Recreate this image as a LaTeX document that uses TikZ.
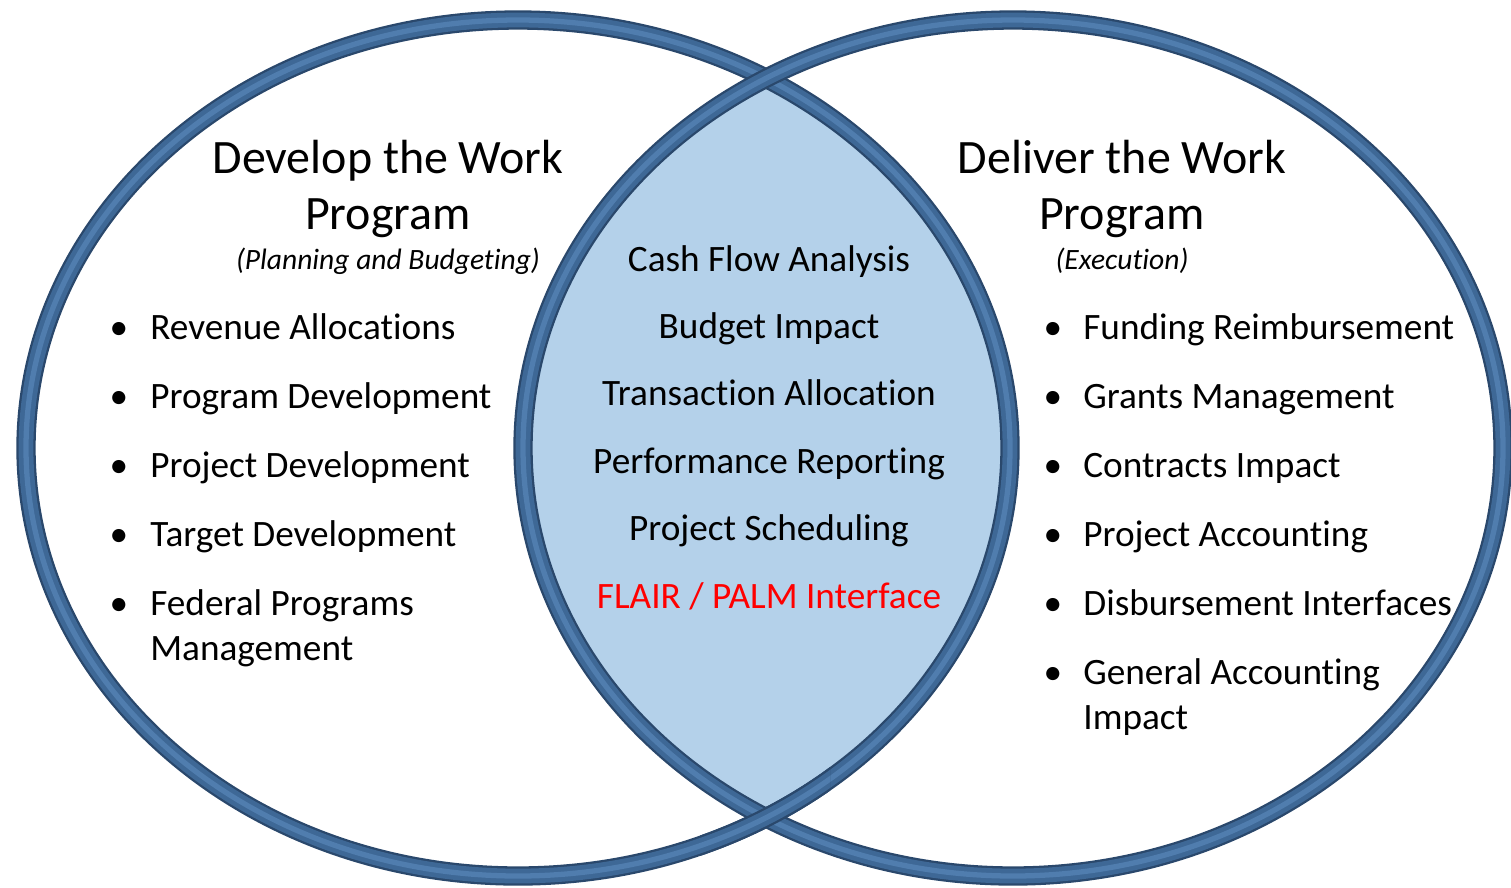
\documentclass[tikz,border=0pt]{standalone}
\usepackage{fontspec}
\setmainfont{Carlito}[Ligatures=NoCommon]
\usepackage{tikz}
\definecolor{ringdark}{RGB}{42,72,108}
\definecolor{ringmid}{RGB}{62,104,150}
\definecolor{ringhi}{RGB}{80,125,174}
\definecolor{lens}{RGB}{180,209,234}
\tikzset{ring/.style={draw=ringdark, line width=11pt, postaction={draw=ringmid, line width=8.4pt}, postaction={draw=ringhi, line width=3pt}}}
\tikzset{title/.style={align=center, anchor=base, font=\fontsize{27.3}{31.7}\selectfont, inner sep=0pt}}
\tikzset{sub/.style={anchor=base, font=\fontsize{16.8}{19}\selectfont\itshape, inner sep=0pt}}
\tikzset{item/.style={align=left, anchor=base west, font=\fontsize{21.2}{25.5}\selectfont, inner sep=0pt}}
\tikzset{lensitem/.style={anchor=base, font=\fontsize{21.2}{24}\selectfont, inner sep=0pt}}
\tikzset{dot/.style={anchor=base, font=\fontsize{21.2}{24}\selectfont, inner sep=0pt}}

\begin{document}
\begin{tikzpicture}[x=0.02cm, y=-0.02cm]
    \useasboundingbox (0,0) rectangle (1511,887);
    
    % shared part of the two programs
    \begin{scope}
        \clip (518,448) ellipse [x radius=492, y radius=428];
        \fill [lens] (1013,448) ellipse [x radius=490, y radius=428];
    \end{scope}
    \draw [ring] (518,448) ellipse [x radius=492, y radius=428];
    \draw [ring] (1013,448) ellipse [x radius=490, y radius=428];
    \begin{scope}
        \clip (700,740) rectangle (830,890);
        \draw [ring] (518,448) ellipse [x radius=492, y radius=428];
    \end{scope}
    
    % titles (base is the last line)
    \node [title] (devtitle) at (388,229) {Develop the Work\\Program};
    \node [sub] (devsub) at (388,269) {(Planning and Budgeting)};
    \node [title] (deltitle) at (1122,229) {Deliver the Work\\Program};
    \node [sub] (delsub) at (1122,269) {(Execution)};
    
    \foreach \t/\s [count=\i] in {Revenue Allocations/0, Program Development/0, Project Development/0, Target Development/0, {Federal Programs\\Management}/45} {
        \node [dot] (devdot\i) at (119,270+69*\i) {\textbullet};
        \node [item] (dev\i) at (150,270+69*\i+\s) {\t};
    }
    
    \foreach \t [count=\i] in {Cash Flow Analysis, Budget Impact, Transaction Allocation, Performance Reporting, Project Scheduling} {
        \node [lensitem] (mid\i) at (769,203.6+67.4*\i) {\t};
    }
    \node [lensitem, text=red] (mid6) at (769,608) {FLAIR / PALM Interface};
    
    \foreach \t/\s [count=\i] in {Funding Reimbursement/0, Grants Management/0, Contracts Impact/0, Project Accounting/0, Disbursement Interfaces/0, {General Accounting\\Impact}/45} {
        \node [dot] (deldot\i) at (1053,270+69*\i) {\textbullet};
        \node [item] (del\i) at (1083,270+69*\i+\s) {\t};
    }
    
\end{tikzpicture}
\end{document}
